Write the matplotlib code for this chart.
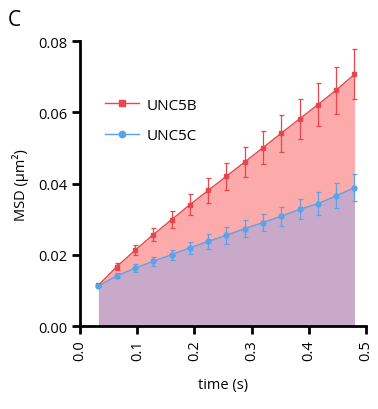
import matplotlib.pyplot as plt
import numpy as np

plt.rcParams['font.family'] = ['Open Sans', 'DejaVu Sans']

# data
time = [0.032, 0.064, 0.096, 0.128, 0.160, 0.192, 0.224, 0.256,
        0.288, 0.320, 0.352, 0.384, 0.416, 0.448, 0.480]
unc5b = [0.0115, 0.0167, 0.0213, 0.0257, 0.0299, 0.0341, 0.0381, 0.0421,
         0.0461, 0.0501, 0.0542, 0.0582, 0.0622, 0.0663, 0.0707]
unc5b_err = [0.0003, 0.0009, 0.0014, 0.0019, 0.0023, 0.0029, 0.0034, 0.0038,
             0.0043, 0.0047, 0.0052, 0.0056, 0.0061, 0.0066, 0.0070]
unc5c = [0.0113, 0.0141, 0.0163, 0.0182, 0.0201, 0.0220, 0.0238, 0.0255,
         0.0274, 0.0291, 0.0309, 0.0328, 0.0344, 0.0366, 0.0389]
unc5c_err = [0.0003, 0.0007, 0.0012, 0.0013, 0.0014, 0.0016, 0.0020, 0.0023,
             0.0024, 0.0025, 0.0027, 0.0028, 0.0033, 0.0035, 0.0038]

red = '#e8454c'
blue = '#5aa2ea'

fig = plt.figure(figsize=(3.78, 4.10), dpi=100)
ax = fig.add_axes([0.212, 0.202, 0.756, 0.695])

ax.fill_between(time, 0, unc5b, color='#fcaaaa', linewidth=0)
ax.fill_between(time, 0, unc5c, color='#c8a9c9', linewidth=0)

ax.errorbar(time, unc5b, yerr=unc5b_err, color=red, marker='s', markersize=3.5,
            linewidth=1, elinewidth=0.9, capsize=1.8, capthick=0.9, label='UNC5B')
ax.errorbar(time, unc5c, yerr=unc5c_err, color=blue, marker='o', markersize=3.5,
            linewidth=1, elinewidth=0.9, capsize=1.8, capthick=0.9, label='UNC5C')

ax.set_xlim(0, 0.5)
ax.set_ylim(0, 0.08)
ax.set_xticks([0.0, 0.1, 0.2, 0.3, 0.4, 0.5])
ax.set_xticklabels(['0.0', '0.1', '0.2', '0.3', '0.4', '0.5'], rotation=90)
ax.set_yticks([0.0, 0.02, 0.04, 0.06, 0.08])
ax.set_yticklabels(['0.00', '0.02', '0.04', '0.06', '0.08'])
ax.tick_params(width=2, length=6, labelsize=10.5, color='black')

for s in ['top', 'right']:
    ax.spines[s].set_visible(False)
for s in ['left', 'bottom']:
    ax.spines[s].set_linewidth(2)

ax.set_xlabel('time (s)', fontsize=10.5, labelpad=12)
ax.set_ylabel('MSD (µm²)', fontsize=10.5, labelpad=6)

handles, labels = ax.get_legend_handles_labels()
handles = [h[0] for h in handles]
ax.legend(handles, labels, loc='upper left', bbox_to_anchor=(0.04, 0.85),
          frameon=False, fontsize=11, handlelength=2.2, handletextpad=0.5,
          labelspacing=1.0, markerscale=1.3)

fig.text(0.02, 0.975, 'C', fontsize=15, va='top')

fig.savefig('out.png', dpi=100)
